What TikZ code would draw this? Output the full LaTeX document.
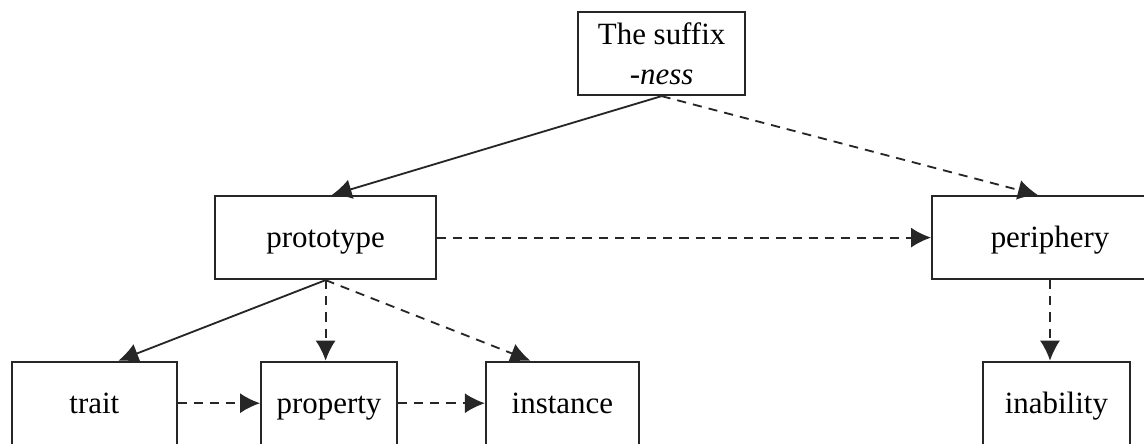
\documentclass[tikz,border=0pt]{standalone}
\usepackage{fontspec}
\setmainfont{Liberation Serif}
\usetikzlibrary{arrows.meta}

\tikzstyle{block} = [rectangle, draw=black!85, line width=1.3pt, fill=white, text centered, minimum height=2.08cm, inner sep=0pt, font=\fontsize{22}{28.5}\selectfont]
\tikzstyle{word} = [block, text height=0.62cm, text depth=0.12cm]
\tikzstyle{arrow} = [draw=black!85, line width=1.3pt, -{Latex[length=5mm, width=5mm]}]
\tikzstyle{dasharrow} = [arrow, dash pattern=on 6.5pt off 5pt]

\begin{document}
\begin{tikzpicture}[node distance=4.6cm, auto]
    \useasboundingbox (0,0) rectangle (28.6,-11.075);
    \clip (0,0) rectangle (28.6,-11.075);

    \node[block, minimum width=4.17cm, align=center] (suffix) at (16.54,-1.34) {The suffix\\\textit{-ness}};
    \node[word, below of=suffix, xshift=-8.4cm, minimum width=5.52cm] (prototype) {prototype};
    \node[word, below of=suffix, xshift=9.71cm, minimum width=5.9cm] (periphery) {periphery};

    \node[word, below of=prototype, node distance=4.14cm, xshift=-5.78cm, minimum width=4.12cm] (trait) {trait};
    \node[word, below of=prototype, node distance=4.14cm, xshift=0.085cm, minimum width=3.4cm] (property) {property};
    \node[word, below of=prototype, node distance=4.14cm, xshift=5.92cm, minimum width=3.83cm] (instance) {instance};
    \node[word, below of=periphery, node distance=4.14cm, xshift=0.16cm, minimum width=3.68cm] (inability) {inability};

    % lines
    \draw [arrow] (suffix.south) to ([xshift=0.15cm]prototype.north);
    \draw [dasharrow] (suffix.south) to ([xshift=-0.3cm]periphery.north);
    \draw [dasharrow] (prototype.east) to (periphery.west);
    \draw [arrow] (prototype.south) to ([xshift=0.6cm]trait.north);
    \draw [dasharrow] (prototype.south) to (prototype.south |- property.north);
    \draw [dasharrow] (prototype.south) to ([xshift=-0.8cm]instance.north);
    \draw [dasharrow] (trait.east) to (property.west);
    \draw [dasharrow] (property.east) to (instance.west);
    \draw [dasharrow] (periphery.south) to (periphery.south |- inability.north);
\end{tikzpicture}
\end{document}
